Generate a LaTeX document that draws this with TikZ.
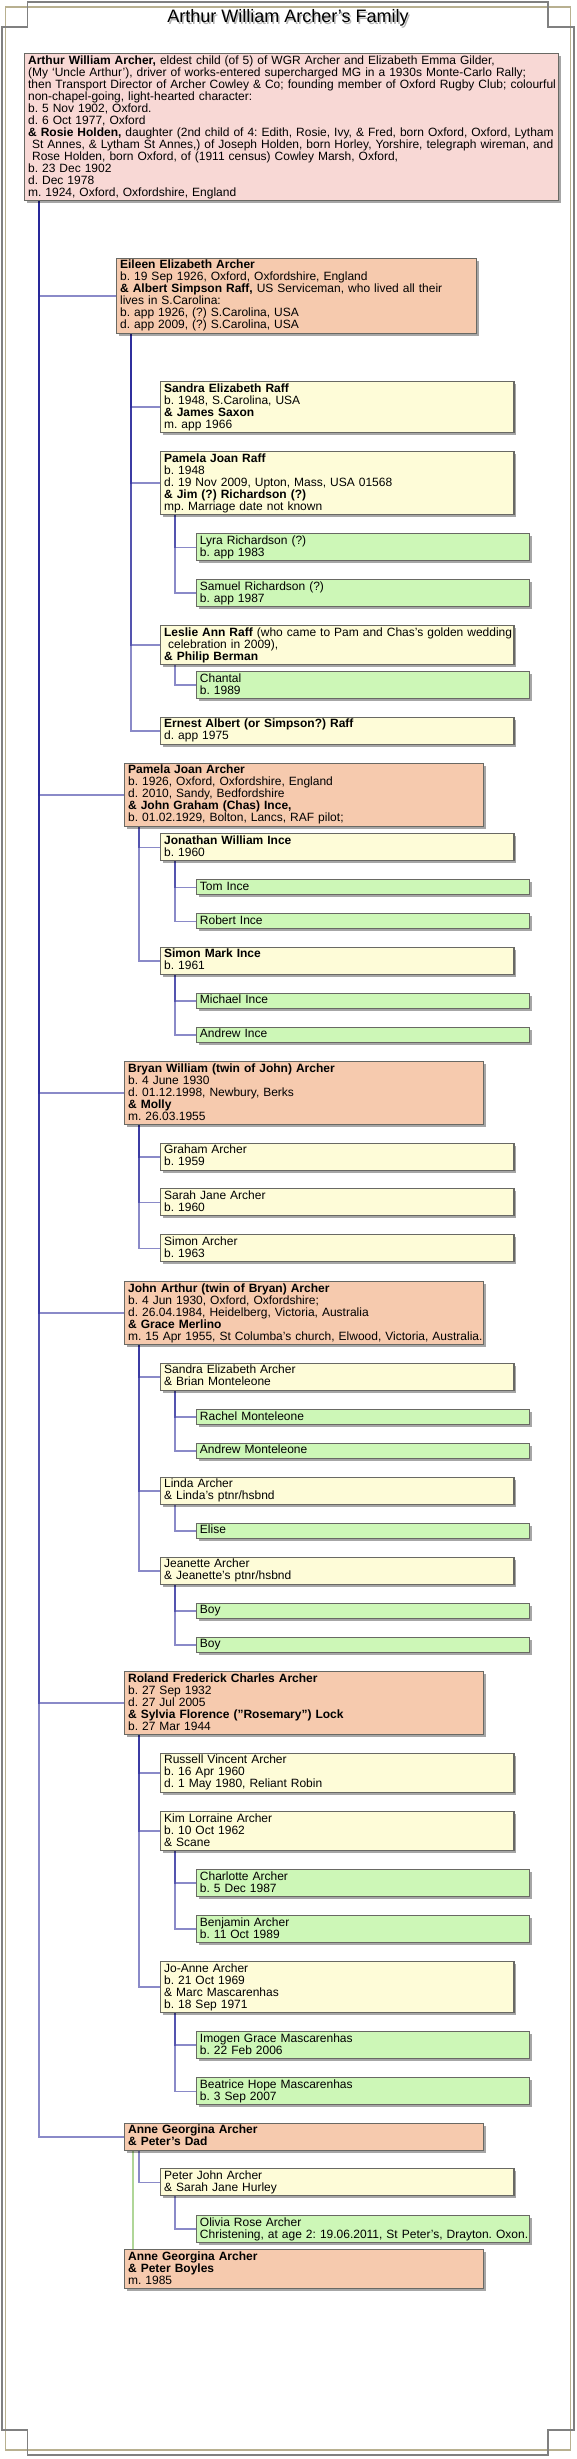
\documentclass[tikz,border=0pt]{standalone}
\usepackage{fontspec}
\setmainfont{Liberation Sans}
\usetikzlibrary{shadows,calc,backgrounds}
\definecolor{pinkfill}{RGB}{248,216,213}
\definecolor{peachfill}{RGB}{246,202,174}
\definecolor{yellowfill}{RGB}{254,252,216}
\definecolor{greenfill}{RGB}{205,247,183}
\definecolor{boxborder}{RGB}{105,105,100}
\definecolor{conncol}{rgb}{0.15,0.15,0.6}
\definecolor{greenline}{RGB}{176,214,152}
\definecolor{framegray}{RGB}{128,128,128}
\definecolor{frametan}{RGB}{184,176,144}
\frenchspacing
\lineskiplimit=-20pt
\tikzset{
  basebox/.style={draw=boxborder, line width=1.1pt, anchor=north west,
    inner xsep=3.6pt, inner ysep=1.5pt, align=left,
    font=\fontsize{12pt}{12pt}\selectfont,
    execute at begin node={\vrule height 9.2pt depth 0pt width 0pt},
    execute at end node={\vrule height 0pt depth 2.8pt width 0pt},
    drop shadow={shadow xshift=2.5pt, shadow yshift=-2.5pt, opacity=0.35, fill=black}},
  rootbox/.style={basebox, fill=pinkfill, text width=526.4pt},
  kidbox/.style={basebox, fill=peachfill, text width=351.8pt},
  grandbox/.style={basebox, fill=yellowfill, text width=346.2pt},
  greatbox/.style={basebox, fill=greenfill, text width=325.8pt},
  conn/.style={draw=conncol, draw opacity=0.54, line width=1.6pt},
  twinlink/.style={draw=greenline, line width=1.6pt},
  titletext/.style={font=\fontsize{18pt}{20pt}\selectfont, anchor=base}
}
\begin{document}
\begin{tikzpicture}[x=1pt,y=-1pt]
\useasboundingbox (0,0) rectangle (577,2459);
% frame
\draw[frametan, line width=1.2pt] (5.5,7) rectangle (570.5,2450);
\draw[framegray, line width=1.3pt] (27.6,2) -- (548,2) -- (548,27) -- (574,27) -- (574,2430) -- (548,2430) -- (548,2455) -- (27.6,2455) -- (27.6,2430) -- (2,2430) -- (2,27) -- (27.6,27) -- cycle;
% title
\node[titletext, text=black!30] (titleshadow) at (289.5,24.3) {Arthur William Archer’s Family};
\node[titletext] (title) at (288,22.8) {Arthur William Archer’s Family};

% root
\node[rootbox] (arthur) at (24,53.3) {\textbf{Arthur William Archer,} eldest child (of 5) of WGR Archer and Elizabeth Emma Gilder,\\
\mbox{(My ‘Uncle Arthur’), driver of works-entered supercharged MG in a 1930s Monte-Carlo Rally;}\\
\mbox{then Transport Director of Archer Cowley \& Co; founding member of Oxford Rugby Club; colourful}\\
non-chapel-going, light-hearted character:\\
b. 5 Nov 1902, Oxford.\\
d. 6 Oct 1977, Oxford\\
\mbox{\textbf{\& Rosie Holden,} daughter (2nd child of 4: Edith, Rosie, Ivy, \& Fred, born Oxford, Oxford, Lytham}\\
\mbox{\ St Annes, \& Lytham St Annes,) of Joseph Holden, born Horley, Yorshire, telegraph wireman, and}\\
\mbox{\ Rose Holden, born Oxford, of (1911 census) Cowley Marsh, Oxford,}\\
b. 23 Dec 1902\\
d. Dec 1978\\
m. 1924, Oxford, Oxfordshire, England};

% Eileen
\node[kidbox, text width=352.3pt] (eileen) at (116,257.7) {\textbf{Eileen Elizabeth Archer}\\
b. 19 Sep 1926, Oxford, Oxfordshire, England\\
\mbox{\textbf{\& Albert Simpson Raff,} US Serviceman, who lived all their}\\
lives in S.Carolina:\\
b. app 1926, (?) S.Carolina, USA\\
d. app 2009, (?) S.Carolina, USA};
\node[grandbox] (sandraR) at (160,381) {\textbf{Sandra Elizabeth Raff}\\b. 1948, S.Carolina, USA\\\textbf{\& James Saxon}\\m. app 1966};
\node[grandbox] (pamelaR) at (160,451) {\textbf{Pamela Joan Raff}\\b. 1948\\d. 19 Nov 2009, Upton, Mass, USA 01568\\\textbf{\& Jim (?) Richardson (?)}\\mp. Marriage date not known};
\node[greatbox] (lyra) at (195.8,533.3) {Lyra Richardson (?)\\b. app 1983};
\node[greatbox] (samuel) at (195.8,579) {Samuel Richardson (?)\\b. app 1987};
\node[grandbox] (leslie) at (160,625) {\mbox{\textbf{Leslie Ann Raff} (who came to Pam and Chas’s golden wedding}\\\ celebration in 2009),\\\textbf{\& Philip Berman}};
\node[greatbox] (chantal) at (195.8,671) {Chantal\\b. 1989};
\node[grandbox] (ernest) at (160,716.7) {\textbf{Ernest Albert (or Simpson?) Raff}\\d. app 1975};

% Pamela
\node[kidbox] (pamela) at (124,762.7) {\textbf{Pamela Joan Archer}\\b. 1926, Oxford, Oxfordshire, England\\d. 2010, Sandy, Bedfordshire\\\textbf{\& John Graham (Chas) Ince,}\\b. 01.02.1929, Bolton, Lancs, RAF pilot;};
\node[grandbox] (jonathan) at (160,833.3) {\textbf{Jonathan William Ince}\\b. 1960};
\node[greatbox] (tom) at (195.8,879.3) {Tom Ince};
\node[greatbox] (robert) at (195.8,913.3) {Robert Ince};
\node[grandbox] (simonM) at (160,946.7) {\textbf{Simon Mark Ince}\\b. 1961};
\node[greatbox] (michael) at (195.8,992.7) {Michael Ince};
\node[greatbox] (andrewI) at (195.8,1026.7) {Andrew Ince};

% Bryan
\node[kidbox] (bryan) at (124,1061) {\textbf{Bryan William (twin of John) Archer}\\b. 4 June 1930\\d. 01.12.1998, Newbury, Berks\\\textbf{\& Molly}\\m. 26.03.1955};
\node[grandbox] (graham) at (160,1142.7) {Graham Archer\\b. 1959};
\node[grandbox] (sarah) at (160,1188.3) {Sarah Jane Archer\\b. 1960};
\node[grandbox] (simonA) at (160,1234.3) {Simon Archer\\b. 1963};

% John
\node[kidbox] (john) at (124,1281) {\textbf{John Arthur (twin of Bryan) Archer}\\b. 4 Jun 1930, Oxford, Oxfordshire;\\d. 26.04.1984, Heidelberg, Victoria, Australia\\\textbf{\& Grace Merlino}\\\mbox{m. 15 Apr 1955, St Columba’s church, Elwood, Victoria, Australia.}};
\node[grandbox] (sandraA) at (160,1362.7) {Sandra Elizabeth Archer\\\& Brian Monteleone};
\node[greatbox] (rachel) at (195.8,1409) {Rachel Monteleone};
\node[greatbox] (andrewM) at (195.8,1442.7) {Andrew Monteleone};
\node[grandbox] (linda) at (160,1476.7) {Linda Archer\\\& Linda’s ptnr/hsbnd};
\node[greatbox] (elise) at (195.8,1522.7) {Elise};
\node[grandbox] (jeanette) at (160,1556.7) {Jeanette Archer\\\& Jeanette’s ptnr/hsbnd};
\node[greatbox] (boyA) at (195.8,1602.7) {Boy};
\node[greatbox] (boyB) at (195.8,1636.7) {Boy};

% Roland
\node[kidbox] (roland) at (124,1671) {\textbf{Roland Frederick Charles Archer}\\b. 27 Sep 1932\\d. 27 Jul 2005\\\textbf{\& Sylvia Florence ("Rosemary") Lock}\\b. 27 Mar 1944};
\node[grandbox] (russell) at (160,1752.7) {Russell Vincent Archer\\b. 16 Apr 1960\\d. 1 May 1980, Reliant Robin};
\node[grandbox] (kim) at (160,1811) {Kim Lorraine Archer\\b. 10 Oct 1962\\\& Scane};
\node[greatbox] (charlotte) at (195.8,1869) {Charlotte Archer\\b. 5 Dec 1987};
\node[greatbox] (benjamin) at (195.8,1915) {Benjamin Archer\\b. 11 Oct 1989};
\node[grandbox] (joanne) at (160,1961) {Jo-Anne Archer\\b. 21 Oct 1969\\\& Marc Mascarenhas\\b. 18 Sep 1971};
\node[greatbox] (imogen) at (195.8,2031) {Imogen Grace Mascarenhas\\b. 22 Feb 2006};
\node[greatbox] (beatrice) at (195.8,2077.3) {Beatrice Hope Mascarenhas\\b. 3 Sep 2007};

% Anne
\node[kidbox] (anneA) at (124,2122.7) {\textbf{Anne Georgina Archer}\\\textbf{\& Peter’s Dad}};
\node[grandbox] (peter) at (160,2168.3) {Peter John Archer\\\& Sarah Jane Hurley};
\node[greatbox] (olivia) at (195.8,2215) {Olivia Rose Archer\\\mbox{Christening, at age 2: 19.06.2011, St Peter’s, Drayton. Oxon.}};
\node[kidbox] (anneB) at (124,2249.3) {\textbf{Anne Georgina Archer}\\\textbf{\& Peter Boyles}\\m. 1985};

\begin{pgfonlayer}{background}
\foreach \c in {eileen,pamela,bryan,john,roland,anneA}
  \draw[conn] ($(arthur.south west)+(15,0)$) |- (\c.west);
\foreach \c in {sandraR,pamelaR,leslie,ernest}
  \draw[conn] ($(eileen.south west)+(15,0)$) |- (\c.west);
\foreach \c in {lyra,samuel}
  \draw[conn] ($(pamelaR.south west)+(15,0)$) |- (\c.west);
\draw[conn] ($(leslie.south west)+(15,0)$) |- (chantal.west);
\foreach \c in {jonathan,simonM}
  \draw[conn] ($(pamela.south west)+(15,0)$) |- (\c.west);
\foreach \c in {tom,robert}
  \draw[conn] ($(jonathan.south west)+(15,0)$) |- (\c.west);
\foreach \c in {michael,andrewI}
  \draw[conn] ($(simonM.south west)+(15,0)$) |- (\c.west);
\foreach \c in {graham,sarah,simonA}
  \draw[conn] ($(bryan.south west)+(15,0)$) |- (\c.west);
\foreach \c in {sandraA,linda,jeanette}
  \draw[conn] ($(john.south west)+(15,0)$) |- (\c.west);
\foreach \c in {rachel,andrewM}
  \draw[conn] ($(sandraA.south west)+(15,0)$) |- (\c.west);
\draw[conn] ($(linda.south west)+(15,0)$) |- (elise.west);
\foreach \c in {boyA,boyB}
  \draw[conn] ($(jeanette.south west)+(15,0)$) |- (\c.west);
\foreach \c in {russell,kim,joanne}
  \draw[conn] ($(roland.south west)+(15,0)$) |- (\c.west);
\foreach \c in {charlotte,benjamin}
  \draw[conn] ($(kim.south west)+(15,0)$) |- (\c.west);
\foreach \c in {imogen,beatrice}
  \draw[conn] ($(joanne.south west)+(15,0)$) |- (\c.west);
\draw[conn] ($(anneA.south west)+(15,0)$) |- (peter.west);
\draw[conn] ($(peter.south west)+(15,0)$) |- (olivia.west);
\draw[twinlink] ($(anneA.south west)+(9,0)$) -- ($(anneB.north west)+(9,0)$);
\end{pgfonlayer}
\end{tikzpicture}
\end{document}
